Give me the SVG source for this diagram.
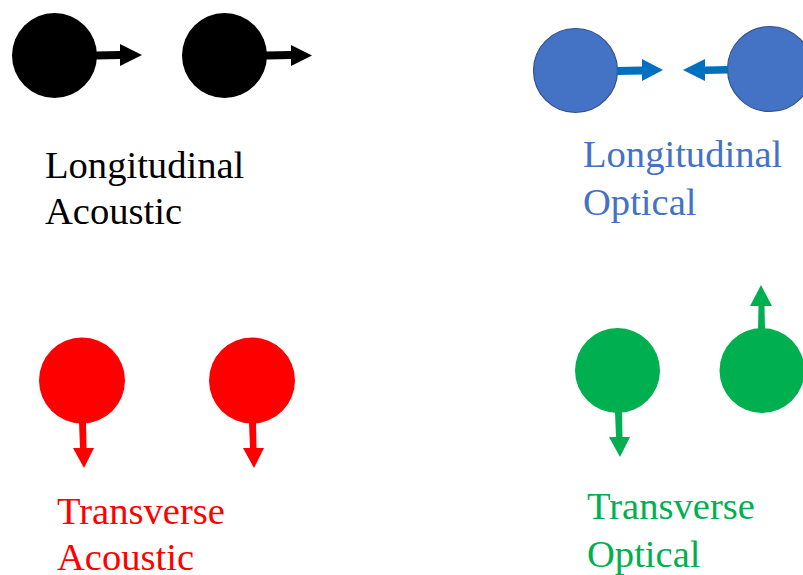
<svg xmlns="http://www.w3.org/2000/svg" width="803" height="575" viewBox="0 0 803 575">
<style>
.lbl{font-family:"Liberation Serif","Times New Roman",serif;font-size:38.6px}
.k{fill:#000}
.b{fill:#4472C4}
.r{fill:#FF0000}
.g{fill:#00B050}
.ba{fill:#0070C0}
</style>
<rect width="803" height="575" fill="#fff"/>
<g id="la">
  <circle class="k" cx="54.5" cy="55.5" r="42.5"/>
  <circle class="k" cx="224.5" cy="55.5" r="42.5"/>
  <text class="lbl k" x="45" y="178">Longitudinal</text>
  <text class="lbl k" x="45" y="224">Acoustic</text>
</g>
<g id="lo">
  <circle class="b" cx="575.5" cy="70.5" r="42" stroke="#2F528F" stroke-width="1.2"/>
  <circle class="b" cx="770" cy="69" r="42.5" stroke="#2F528F" stroke-width="1.2"/>
  <text class="lbl b" x="583" y="167">Longitudinal</text>
  <text class="lbl b" x="583" y="215">Optical</text>
</g>
<g id="ta">
  <circle class="r" cx="82" cy="380.5" r="43"/>
  <circle class="r" cx="252" cy="380.5" r="43"/>
  <text class="lbl r" x="57" y="524">Transverse</text>
  <text class="lbl r" x="57" y="570">Acoustic</text>
</g>
<g id="to">
  <circle class="g" cx="617.5" cy="370.5" r="42.5"/>
  <circle class="g" cx="762" cy="370.5" r="42.5"/>
  <text class="lbl g" x="587" y="519">Transverse</text>
  <text class="lbl g" x="587" y="567">Optical</text>
</g>
<g id="connectors">
  <polygon class="k" points="96,51.5 120,51 120,44 142,55 120,66 120,59 96,59.5"/>
  <polygon class="k" points="266,51.5 291,51 291,45 312,55.5 291,66 291,59 266,59.5"/>
  <polygon class="ba" points="617,67 642,66.5 642,59 663,70 642,81 642,74.5 617,75"/>
  <polygon class="ba" points="728,66 705,66.5 705,59 683,70 705,81 705,74 728,73.5"/>
  <polygon class="r" points="79,422 86,422 86.5,448 94,448 84,468 73,448 80,448"/>
  <polygon class="r" points="249,422 256,422 256.5,448 264,448 254,468 243,448 250,448"/>
  <polygon class="g" points="615,412 622,412 622.5,437 630,437 620,457 609,437 616,437"/>
  <polygon class="g" points="758,329 765,329 764.5,306 772,306 761,285 750,306 758.5,306"/>
</g>
</svg>
